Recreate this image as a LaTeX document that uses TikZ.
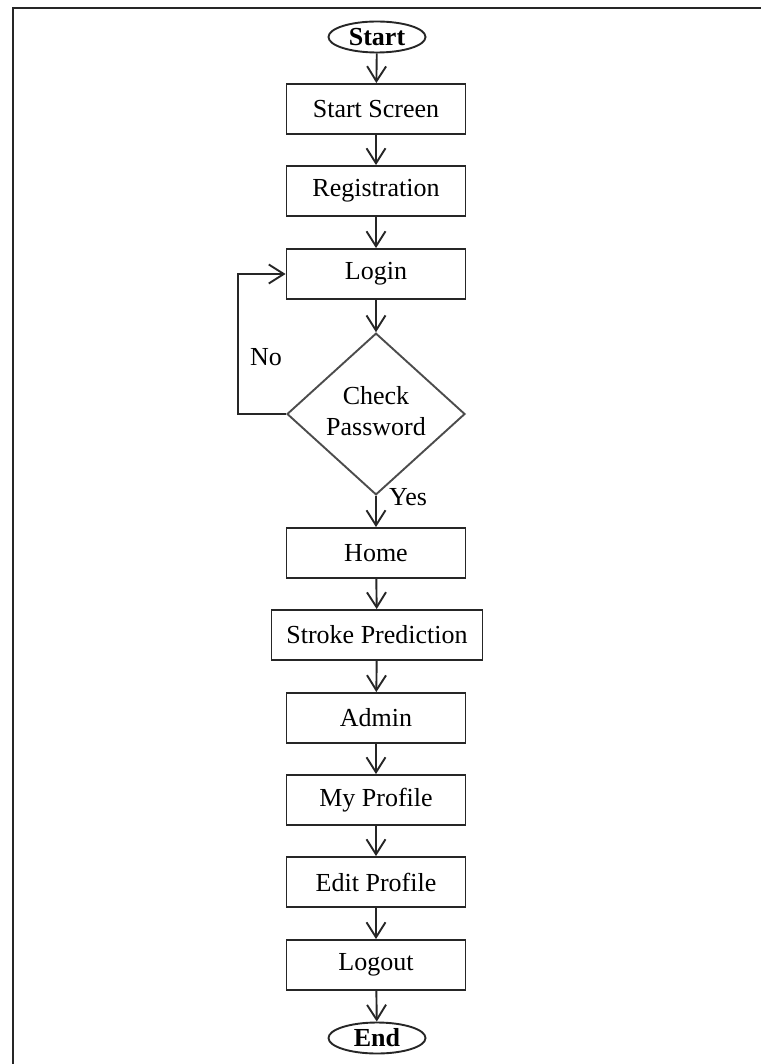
\documentclass[tikz,border=0pt]{standalone}
\usepackage{fontspec}
\setmainfont{Liberation Serif}
\usetikzlibrary{shapes.geometric,arrows.meta}

\begin{document}
\begin{tikzpicture}[x=1pt,y=-1pt,
  lbl/.style={font=\fontsize{26}{31}\selectfont},
  proc/.style={draw=black!85, line width=1.9pt, minimum width=179pt,
    minimum height=50pt, inner sep=0pt, lbl},
  term/.style={ellipse, draw=black!85, line width=1.9pt, minimum width=97pt,
    minimum height=31pt, inner sep=0pt, font=\fontsize{26}{31}\selectfont\bfseries},
  decide/.style={diamond, draw=black!70, line width=1.9pt, minimum width=178pt,
    minimum height=128pt, inner sep=0pt, lbl},
  flow/.style={draw=black!85, line width=1.9pt,
    -{Straight Barb[length=15pt,width=19pt,line width=1.9pt]}}]

\useasboundingbox (0,0) rectangle (761,1064);

% page frame (left and top edges)
\draw[line width=2.2pt, black!85] (13,1064) -- (13,8) -- (761,8);

\node[term] (start) at (377,37) {Start};
\node[proc] (screen) at (376,109) {Start Screen};
\node[proc] (reg) at (376,191) {Registration};
\node[proc] (login) at (376,274) {Login};
\node[decide] (check) at (376,414)
  {\raisebox{10pt}{\begin{tabular}{@{}c@{}}Check\\Password\end{tabular}}};
\node[proc] (home) at (376,553) {Home};
\node[proc, minimum width=211pt] (stroke) at (377,635) {Stroke Prediction};
\node[proc] (admin) at (376,718) {Admin};
\node[proc] (profile) at (376,800) {My Profile};
\node[proc] (edit) at (376,882) {Edit Profile};
\node[proc] (logout) at (376,965) {Logout};
\node[term] (end) at (377,1038) {End};

\coordinate (loopdown) at (238,414);
\coordinate (loopup) at (238,274);

\node[lbl, anchor=center] (no) at (266,357) {No};
\node[lbl, anchor=center] (yes) at (408,497) {Yes};

\draw[flow] (start) -- (screen);
\draw[flow] (screen) -- (reg);
\draw[flow] (reg) -- (login);
\draw[flow] (login) -- (check);
\draw[flow] (check.west) -- (loopdown) -- (loopup) -- (login.west);
\draw[flow] (check) -- (home);
\draw[flow] (home) -- (stroke);
\draw[flow] (stroke) -- (admin);
\draw[flow] (admin) -- (profile);
\draw[flow] (profile) -- (edit);
\draw[flow] (edit) -- (logout);
\draw[flow] (logout) -- (end);
\end{tikzpicture}
\end{document}
